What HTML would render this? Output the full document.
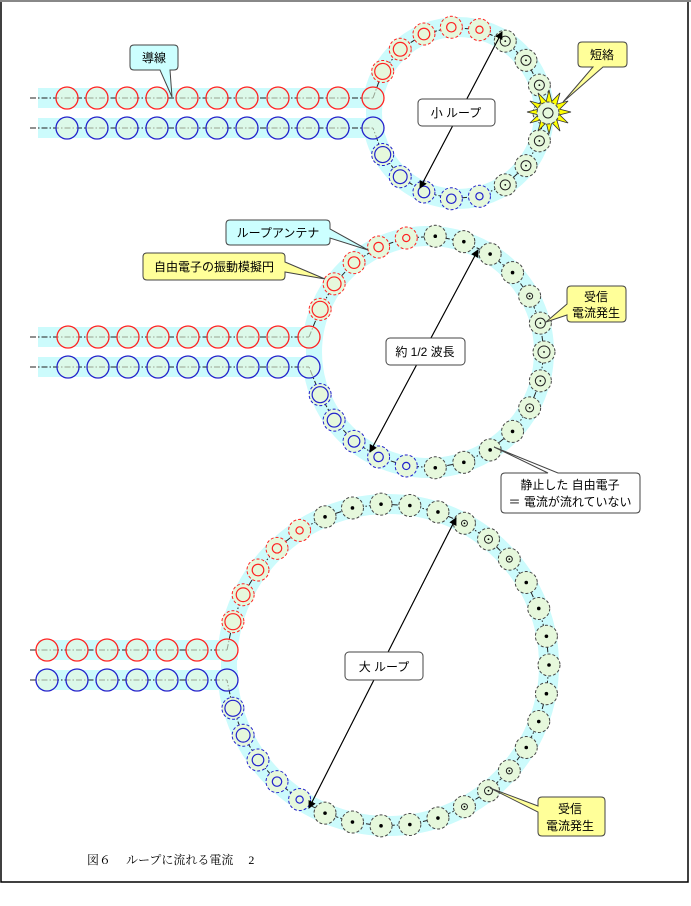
<!DOCTYPE html>
<html><head><meta charset="utf-8">
<style>
html,body{margin:0;padding:0;background:#fff;}
svg{display:block;}
text{font-family:"Liberation Sans","Noto Sans CJK JP",sans-serif;font-size:12px;fill:#000;}
.cap{font-family:"Liberation Serif","Noto Serif CJK SC",serif;font-size:12px;}
</style></head>
<body>
<svg id="s" width="691" height="906" viewBox="0 0 691 906" xmlns="http://www.w3.org/2000/svg">
<defs>
<marker id="ah" markerWidth="8" markerHeight="8" refX="7" refY="4" orient="auto" markerUnits="userSpaceOnUse">
<path d="M0,0 L8,4 L0,8 z" fill="#000"/></marker>
</defs>
<rect x="1" y="1" width="687" height="881" fill="none" stroke="#000" stroke-width="1.5"/>
<line x1="0" y1="1" x2="691" y2="1" stroke="#888" stroke-width="2"/>
<g id="bands"></g>
<g id="lines"></g>
<g id="circ"></g>

<polygon id="star" fill="#ffff00" stroke="#333" stroke-width="0.8"/>
<g id="circ2"></g>

<line x1="502" y1="32" x2="420" y2="188" stroke="#000" stroke-width="1" marker-end="url(#ah)"/>
<line x1="420" y1="188" x2="502" y2="32" stroke="#000" stroke-width="1" marker-end="url(#ah)"/>
<line x1="370" y1="452" x2="478" y2="250" stroke="#000" stroke-width="1" marker-end="url(#ah)"/>
<line x1="478" y1="250" x2="370" y2="452" stroke="#000" stroke-width="1" marker-end="url(#ah)"/>
<line x1="309" y1="808" x2="456" y2="518" stroke="#000" stroke-width="1" marker-end="url(#ah)"/>
<line x1="456" y1="518" x2="309" y2="808" stroke="#000" stroke-width="1" marker-end="url(#ah)"/>

<g stroke="#444" stroke-width="1">
<path d="M130,49 q0,-4 4,-4 h40 q4,0 4,4 v17 q0,4 -4,4 h-4 L172,97 L160,70 h-26 q-4,0 -4,-4 z" fill="#ccffff"/>
<path d="M578,46 q0,-4 4,-4 h41 q4,0 4,4 v17 q0,4 -4,4 h-20 L563,102 L593,67 h-11 q-4,0 -4,-4 z" fill="#ffff99"/>
<path d="M226,224 q0,-4 4,-4 h96 q4,0 4,4 v5 L368,250 L330,238 v3 q0,4 -4,4 h-96 q-4,0 -4,-4 z" fill="#ccffff"/>
<path d="M143,257 q0,-4 4,-4 h134 q4,0 4,4 v5 L325,279 L285,272 v4 q0,4 -4,4 h-134 q-4,0 -4,-4 z" fill="#ffff99"/>
<path d="M567,290 q0,-4 4,-4 h51 q4,0 4,4 v28 q0,4 -4,4 h-51 q-4,0 -4,-4 v-3 L546,322 L567,304 z" fill="#ffff99"/>
<path d="M501,477 q0,-4 4,-4 h43 L494,447 L558,473 h78 q4,0 4,4 v32 q0,4 -4,4 h-131 q-4,0 -4,-4 z" fill="#fff"/>
<path d="M538,801 q0,-4 4,-4 h59 q4,0 4,4 v31 q0,4 -4,4 h-59 q-4,0 -4,-4 v-20 L490,788 L538,806 z" fill="#ffff99"/>
<rect x="418" y="99" width="77" height="27" rx="4" fill="#fff"/>
<rect x="386" y="338" width="79" height="27" rx="4" fill="#fff"/>
<rect x="345" y="652" width="78" height="28" rx="4" fill="#fff"/>
</g>
<text x="154" y="62" text-anchor="middle">導線</text>
<text x="602" y="59" text-anchor="middle">短絡</text>
<text x="278" y="237" text-anchor="middle">ループアンテナ</text>
<text x="214" y="271" text-anchor="middle">自由電子の振動模擬円</text>
<text x="596" y="301" text-anchor="middle">受信</text>
<text x="596" y="317" text-anchor="middle">電流発生</text>
<text x="570" y="489" text-anchor="middle">静止した 自由電子</text>
<text x="570" y="506" text-anchor="middle">＝ 電流が流れていない</text>
<text x="570" y="813" text-anchor="middle">受信</text>
<text x="570" y="830" text-anchor="middle">電流発生</text>
<text x="456" y="117" text-anchor="middle">小  ループ</text>
<text x="425" y="356" text-anchor="middle">約 1/2 波長</text>
<text x="384" y="671" text-anchor="middle">大  ループ</text>
<text class="cap" x="87" y="864">図６　 ループに流れる電流　 2</text>
</svg>
<script>
var NS="http://www.w3.org/2000/svg";
function el(p,t,a){var e=document.createElementNS(NS,t);for(var k in a)e.setAttribute(k,a[k]);p.appendChild(e);return e;}
var B=document.getElementById('bands'),L=document.getElementById('lines'),C=document.getElementById('circ'),C2=document.getElementById('circ2');
var CY="#ccfbfc",GF="#e6f8dc",RED="#ff2222",BLU="#2222cc",GR="#444";
var DD="6,2,1.5,2";
function loop(cx,cy,r,bx0,bx1,xs,jx,nRed,nGray,nBlue,innerFn){
  var yr=cy-15,yb=cy+15;
  el(B,'circle',{cx:cx,cy:cy,r:r,fill:'none',stroke:CY,'stroke-width':20});
  el(B,'rect',{x:bx0,y:yr-10,width:bx1-bx0,height:20,fill:CY});
  el(B,'rect',{x:bx0,y:yb-10,width:bx1-bx0,height:20,fill:CY});
  el(B,'rect',{x:bx0,y:yr+10,width:cx-r-bx0-6,height:10,fill:'#fff'});
  el(L,'line',{x1:bx0-8,y1:yr,x2:jx,y2:yr,stroke:'#222','stroke-dasharray':DD,'stroke-width':1});
  el(L,'line',{x1:bx0-8,y1:yb,x2:jx,y2:yb,stroke:'#222','stroke-dasharray':DD,'stroke-width':1});
  xs.forEach(function(x){
    el(C,'circle',{cx:x,cy:yr,r:11,fill:GF,'fill-opacity':0.6,stroke:RED,'stroke-width':1.3});
    el(C,'circle',{cx:x,cy:yb,r:11,fill:GF,'fill-opacity':0.6,stroke:BLU,'stroke-width':1.3});
  });
  var a0=Math.atan2(yr-cy,jx-cx),a1=Math.atan2(yb-cy,jx-cx);
  if(a1<a0)a1+=2*Math.PI;
  var n=nRed+nGray+nBlue+1,pts=[];
  for(var i=0;i<=n;i++){var a=a0+(a1-a0)*i/n;pts.push([cx+r*Math.cos(a),cy+r*Math.sin(a)]);}
  pts[0]=[jx,yr];pts[n]=[jx,yb];
  var d="M"+pts.map(function(p){return p[0].toFixed(1)+","+p[1].toFixed(1)}).join(" L");
  el(L,'path',{d:d,fill:'none',stroke:'#222','stroke-dasharray':DD,'stroke-width':1});
  el(C,'circle',{cx:jx,cy:yr,r:11,fill:GF,'fill-opacity':0.6,stroke:RED,'stroke-width':1.3});
  el(C,'circle',{cx:jx,cy:yb,r:11,fill:GF,'fill-opacity':0.6,stroke:BLU,'stroke-width':1.3});
  for(var i=1;i<n;i++){
    var p=pts[i],col,k=i-1;
    if(k<nRed){col=RED;}else if(k<nRed+nGray){col=GR;}else{col=BLU;}
    el(C,'circle',{cx:p[0],cy:p[1],r:11,fill:GF,stroke:col,'stroke-width':1,'stroke-dasharray':'3,2'});
    if(col!==GR){
      var j=k<nRed?k:(n-2-k);
      el(C,'circle',{cx:p[0],cy:p[1],r:Math.max(3,8-j*1.1),fill:'none',stroke:col,'stroke-width':1.2});
    } else {
      var g=k-nRed,t=innerFn(g,nGray);
      if(t>0) el(C,'circle',{cx:p[0],cy:p[1],r:t,fill:'none',stroke:'#222','stroke-width':1});
      el(C,'circle',{cx:p[0],cy:p[1],r:t>0?0.9:1.8,fill:'#000'});
    }
  }
}
loop(458,113,86,38,382,[67,97,127,157,187,217,247,278,308,338],373,5,7,5,function(g){return 5;});
loop(428,352,116,38,318,[68,98,128,158,188,218,248,278],309,5,13,5,function(g){return [0,0,0,0,3,5,6,5,4,0,0,0,0][g];});
loop(388,665,161,38,238,[47,77,107,137,167,197],227,5,23,5,function(g){return [0,0,0,0,0,3,4,3,0,0,0,0,0,0,0,3,4,3,0,0,0,0,0][g];});
var sp=[],sx=549,sy=112;
for(var i=0;i<24;i++){var a=i*Math.PI/12-Math.PI/2,rr=i%2?11:22;sp.push((sx+rr*Math.cos(a)).toFixed(1)+","+(sy+rr*Math.sin(a)).toFixed(1));}
document.getElementById('star').setAttribute('points',sp.join(" "));
el(C2,'circle',{cx:548,cy:113,r:11,fill:GF,stroke:GR,'stroke-width':1,'stroke-dasharray':'3,2'});
el(C2,'circle',{cx:548,cy:113,r:5,fill:'none',stroke:'#222','stroke-width':1});
</script>
</body></html>
